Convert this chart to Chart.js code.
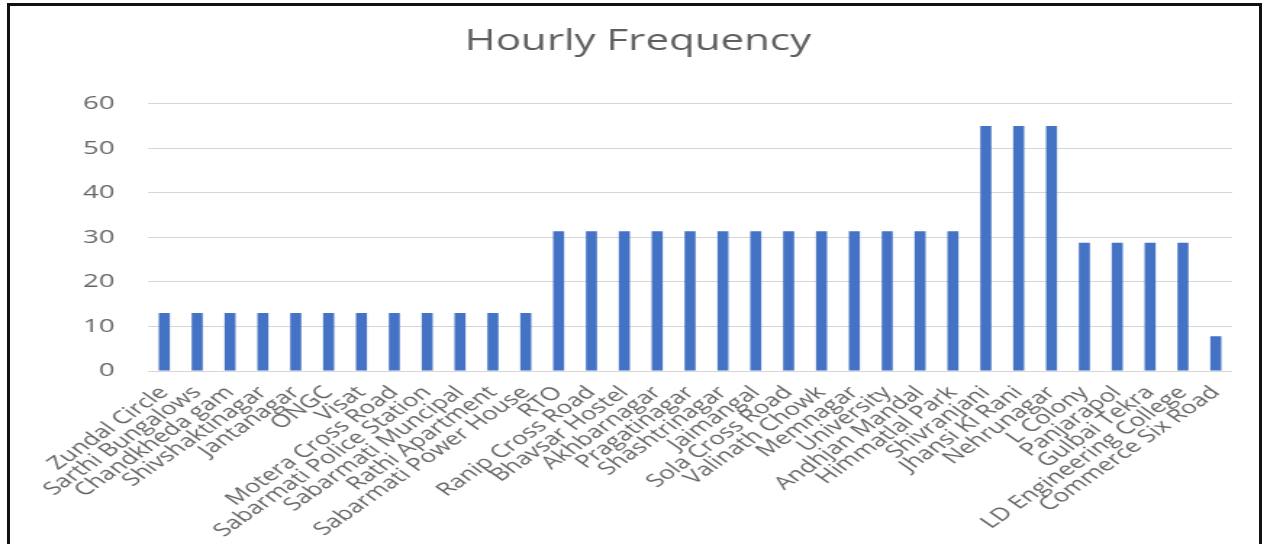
<!DOCTYPE html>
<html>
<head>
<meta charset="utf-8">
<title>Hourly Frequency</title>
<script src="https://cdn.jsdelivr.net/npm/chart.js@4/dist/chart.umd.min.js"></script>
<style>
  html, body { margin: 0; padding: 0; background: #ffffff; overflow: hidden; }
  body { width: 1267px; height: 544px; position: relative; }
  #frame {
    position: absolute; left: 7px; top: 3px; width: 1255px; height: 560px;
    border-top: 3px solid #111; border-left: 3px solid #111; border-right: 3px solid #111;
    box-sizing: border-box; z-index: 2; pointer-events: none;
  }
  #wrap {
    position: absolute; left: 0; top: 0; width: 874px; height: 544px;
    transform: scaleX(1.4497); transform-origin: 0 0;
  }
</style>
</head>
<body>
<div id="frame"></div>
<div id="wrap"><canvas id="chart" width="874" height="544"></canvas></div>
<script>
// Bus stops along the route
const categories = [
  "Zundal Circle", "Sarthi Bungalows", "Chandkheda gam", "Shivshaktinagar",
  "Jantanagar", "ONGC", "Visat", "Motera Cross Road",
  "Sabarmati Police Station", "Sabarmati Muncipal", "Rathi Apartment", "Sabarmati Power House",
  "RTO", "Ranip Cross Road", "Bhavsar Hostel", "Akhbarnagar", "Pragatinagar",
  "Shashtrinagar", "Jaimangal", "Sola Cross Road", "Valinath Chowk", "Memnagar",
  "University", "Andhjan Mandal", "Himmatlal Park",
  "Shivranjani", "Jhansi Ki Rani", "Nehrunagar",
  "L Colony", "Panjarapol", "Gulbai Tekra", "LD Engineering College",
  "Commerce Six Road"
];

// Buses per hour at each stop
const hourlyFrequency = [
  13, 13, 13, 13, 13, 13, 13, 13, 13, 13, 13, 13,
  31.4, 31.4, 31.4, 31.4, 31.4, 31.4, 31.4, 31.4, 31.4, 31.4, 31.4, 31.4, 31.4,
  55, 55, 55,
  28.8, 28.8, 28.8, 28.8,
  7.8
];

// Value axis ticks
const yTicks = [0, 10, 20, 30, 40, 50, 60];

const labelGray = '#666666';

new Chart(document.getElementById('chart'), {
  type: 'bar',
  data: {
    labels: categories,
    datasets: [{
      label: 'Hourly Frequency',
      data: hourlyFrequency,
      backgroundColor: '#4472C4',
      borderWidth: 0,
      barPercentage: 0.335,
      categoryPercentage: 1.0
    }]
  },
  options: {
    responsive: false,
    animation: false,
    layout: { padding: { left: 30, right: 24, top: 0, bottom: 0 } },
    plugins: {
      legend: { display: false },
      tooltip: { enabled: false },
      title: {
        display: true,
        text: 'Hourly Frequency',
        color: '#5f5f5f',
        font: { family: 'Open Sans', size: 29, weight: 'normal' },
        padding: { top: 24, bottom: 45 }
      }
    },
    scales: {
      x: {
        grid: { display: false },
        border: { display: false },
        ticks: {
          autoSkip: false,
          minRotation: 45,
          maxRotation: 45,
          padding: 3,
          color: labelGray,
          font: { family: 'Open Sans', size: 18 }
        },
        afterFit: (s) => { s.height = 173; }
      },
      y: {
        min: yTicks[0],
        max: yTicks[yTicks.length - 1],
        afterBuildTicks: (s) => { s.ticks = yTicks.map(v => ({ value: v })); },
        grid: { color: '#d6d6d6', lineWidth: 1, drawTicks: false },
        border: { display: false },
        ticks: {
          padding: 23,
          color: labelGray,
          font: { family: 'Open Sans', size: 19 }
        },
        afterFit: (s) => { s.width = 72; }
      }
    }
  }
});
</script>
</body>
</html>
